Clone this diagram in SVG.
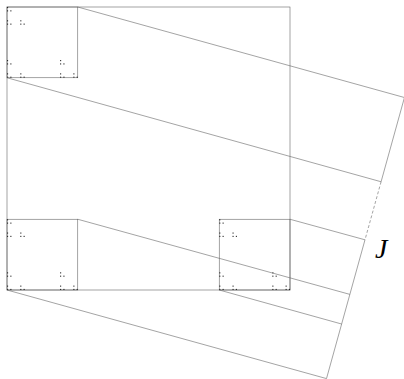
<svg xmlns="http://www.w3.org/2000/svg" xmlns:xlink="http://www.w3.org/1999/xlink" width="404" height="379" viewBox="0 0 404 379">
<style>
.ln{fill:none;stroke:#666;stroke-width:0.6}
.dash{fill:none;stroke:#666;stroke-width:0.6;stroke-dasharray:3 2}
.dot{fill:#222}
.lbl{font-family:"Liberation Serif","DejaVu Serif",serif;font-style:italic;font-size:28px;fill:#000}
</style>
<defs>
<rect id="d4" class="dot" x="0" y="0" width="1.105" height="1.105"/>
<g id="d3"><use xlink:href="#d4" href="#d4"/><use xlink:href="#d4" href="#d4" y="3.316"/><use xlink:href="#d4" href="#d4" x="3.316" y="3.316"/></g>
<g id="d2"><use xlink:href="#d3" href="#d3"/><use xlink:href="#d3" href="#d3" y="13.266"/><use xlink:href="#d3" href="#d3" x="13.266" y="13.266"/></g>
<g id="d1"><use xlink:href="#d2" href="#d2"/><use xlink:href="#d2" href="#d2" y="53.0625"/><use xlink:href="#d2" href="#d2" x="53.0625" y="53.0625"/></g>
</defs>
<g id="big-square"><rect class="ln" x="7" y="7" width="283" height="283"/></g>
<g id="square-top-left"><rect class="ln" x="7" y="7" width="70.75" height="70.75"/><use xlink:href="#d1" href="#d1" x="7" y="7"/></g>
<g id="square-bottom-left"><rect class="ln" x="7" y="219.25" width="70.75" height="70.75"/><use xlink:href="#d1" href="#d1" x="7" y="219.25"/></g>
<g id="square-bottom-right"><rect class="ln" x="219.25" y="219.25" width="70.75" height="70.75"/><use xlink:href="#d1" href="#d1" x="219.25" y="219.25"/></g>
<g id="connectors">
<line class="ln" x1="77.75" y1="7" x2="404.45" y2="97.53"/>
<line class="ln" x1="7" y1="77.75" x2="381.09" y2="181.75"/>
<line class="ln" x1="290" y1="219.25" x2="364.99" y2="239.8"/>
<line class="ln" x1="77.75" y1="219.25" x2="349.85" y2="294.39"/>
<line class="ln" x1="219.25" y1="290" x2="341.64" y2="324.02"/>
<line class="ln" x1="7" y1="290" x2="326.5" y2="378.6"/>
</g>
<g id="line-J">
<line class="ln" x1="404.45" y1="97.53" x2="381.09" y2="181.75"/>
<line class="dash" x1="381.09" y1="181.75" x2="364.99" y2="239.8"/>
<line class="ln" x1="364.99" y1="239.8" x2="326.5" y2="378.6"/>
<text class="lbl" x="375" y="258">J</text>
</g>
</svg>
